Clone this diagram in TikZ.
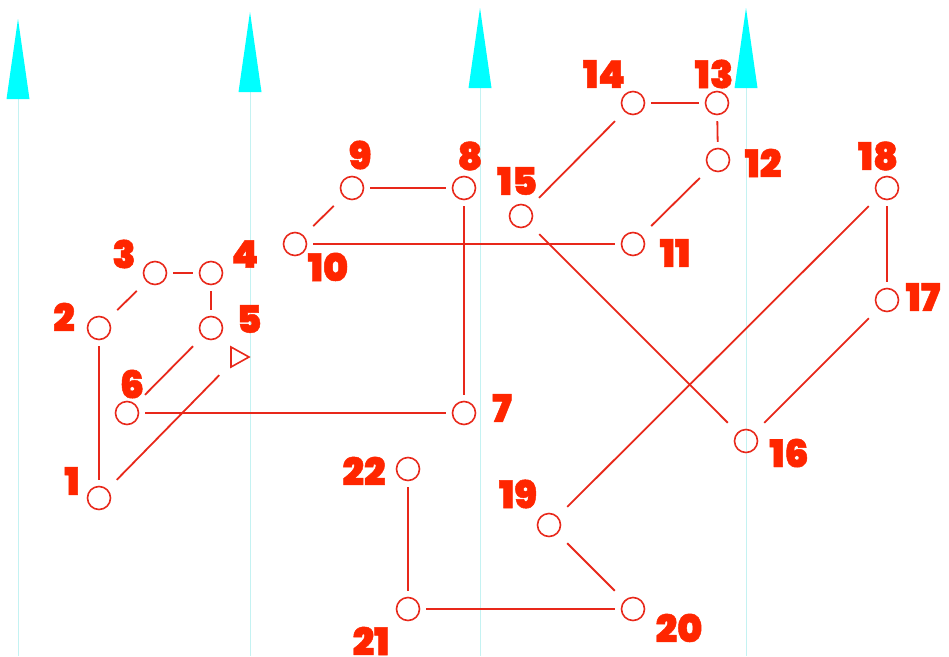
\documentclass[tikz,border=0pt]{standalone}
\usepackage{fontspec}
\newfontfamily\lblfont{Poppins Black}[FakeBold=1.2]
\usetikzlibrary{shapes.geometric}
\definecolor{nred}{HTML}{E8281A}
\definecolor{tred}{HTML}{FF2600}
\definecolor{acyan}{HTML}{00FFFF}
\definecolor{lcyan}{HTML}{C4F2F2}
\tikzset{
  vtx/.style={shape=rectangle, minimum size=36pt, inner sep=0pt,
    path picture={\draw[nred, line width=1.6pt] (path picture bounding box.center) circle (11.5pt);}},
  trivtx/.style={shape=rectangle, minimum size=36pt, inner sep=0pt,
    path picture={\draw[nred, line width=1.6pt, shift={(path picture bounding box.center)}]
      (-6pt,10pt) -- (12pt,0pt) -- (-6pt,-10pt) -- cycle;}},
  conn/.style={draw=nred, line width=1.8pt},
  lbl/.style={text=tred, font=\lblfont\fontsize{38}{38}\selectfont, inner sep=0pt},
  guide/.style={draw=lcyan, line width=1pt},
  ahead/.style={fill=acyan}
}
\begin{document}
\begin{tikzpicture}[x=1pt,y=-1pt]
\useasboundingbox (0,0) rectangle (949,656);
% guides
\foreach \gx/\by/\ty [count=\i] in {18/99/19, 250/92/12, 480/88/8, 746/88/8} {
  \coordinate (gb\i) at (\gx,656);
  \coordinate (gt\i) at (\gx,\by);
  \draw[guide] (gb\i) -- (gt\i);
  \fill[ahead] (\gx-11.5,\by) -- (\gx,\ty) -- (\gx+11.5,\by) -- cycle;
}
% vertices
\node[vtx] (n1) at (99,498) {};
\node[vtx] (n2) at (99,328) {};
\node[vtx] (n3) at (155,273) {};
\node[vtx] (n4) at (211,273) {};
\node[vtx] (n5) at (211,328) {};
\node[vtx] (n6) at (127,413) {};
\node[vtx] (n7) at (464,413) {};
\node[vtx] (n8) at (464,188) {};
\node[vtx] (n9) at (352,188) {};
\node[vtx] (n10) at (295,244) {};
\node[vtx] (n11) at (633,244) {};
\node[vtx] (n12) at (718,160) {};
\node[vtx] (n13) at (717,103) {};
\node[vtx] (n14) at (633,103) {};
\node[vtx] (n15) at (521,216) {};
\node[vtx] (n16) at (746,441) {};
\node[vtx] (n17) at (887,300) {};
\node[vtx] (n18) at (887,188) {};
\node[vtx] (n19) at (549,525) {};
\node[vtx] (n20) at (633,609) {};
\node[vtx] (n21) at (408,609) {};
\node[vtx] (n22) at (408,469) {};
\node[trivtx] (tri) at (237,357) {};
% connectors
\draw[conn] (n1) -- (n2);
\draw[conn] (n2) -- (n3);
\draw[conn] (n3) -- (n4);
\draw[conn] (n4) -- (n5);
\draw[conn] (n5) -- (n6);
\draw[conn] (n6) -- (n7);
\draw[conn] (n7) -- (n8);
\draw[conn] (n8) -- (n9);
\draw[conn] (n9) -- (n10);
\draw[conn] (n10) -- (n11);
\draw[conn] (n11) -- (n12);
\draw[conn] (n12) -- (n13);
\draw[conn] (n13) -- (n14);
\draw[conn] (n14) -- (n15);
\draw[conn] (n15) -- (n16);
\draw[conn] (n16) -- (n17);
\draw[conn] (n17) -- (n18);
\draw[conn] (n18) -- (n19);
\draw[conn] (n19) -- (n20);
\draw[conn] (n20) -- (n21);
\draw[conn] (n21) -- (n22);
\draw[conn] (n1) -- (tri);
% labels
\node[lbl] (l1) at (72,481) {1};
\node[lbl] (l2) at (64,317) {2};
\node[lbl] (l3) at (124,254) {3};
\node[lbl] (l4) at (245,254) {4};
\node[lbl] (l5) at (249,319) {5};
\node[lbl] (l6) at (132,384) {6};
\node[lbl] (l7) at (502,408) {7};
\node[lbl] (l8) at (470,156) {8};
\node[lbl] (l9) at (360,155) {9};
\node[lbl] (l10) at (328,267) {10};
\node[lbl] (l11) at (675,253) {11};
\node[lbl] (l12) at (763,163) {12};
\node[lbl] (l13) at (714,74) {13};
\node[lbl] (l14) at (604,74) {14};
\node[lbl] (l15) at (517,181) {15};
\node[lbl] (l16) at (789,453) {16};
\node[lbl] (l17) at (923,297) {17};
\node[lbl] (l18) at (878,156) {18};
\node[lbl] (l19) at (518,494) {19};
\node[lbl] (l20) at (679,628) {20};
\node[lbl] (l21) at (371,641) {21};
\node[lbl] (l22) at (364,471) {22};
\end{tikzpicture}
\end{document}
